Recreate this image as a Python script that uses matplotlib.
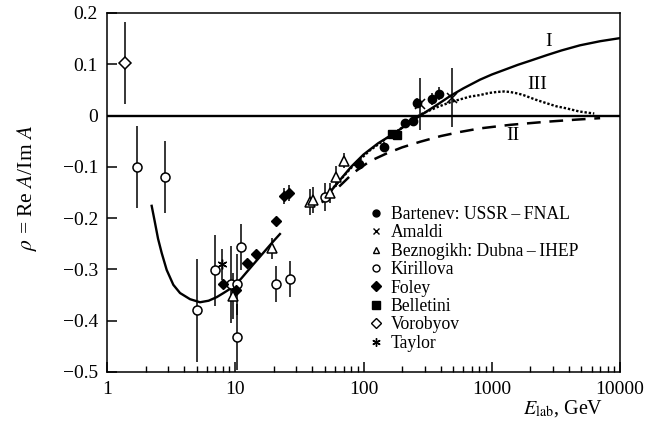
import matplotlib
matplotlib.use("Agg")
import matplotlib.pyplot as plt
from matplotlib.lines import Line2D
from matplotlib.ticker import FixedLocator, LogLocator, NullFormatter, FixedFormatter

plt.rcParams['font.family'] = ['Liberation Serif', 'DejaVu Serif']
plt.rcParams['mathtext.fontset'] = 'stix'

# ---- data ----
vorobyov_E = [1.38]
vorobyov_rho = [0.103]
vorobyov_err = [0.08]

kirillova_E = [1.70, 2.83, 5.06, 6.95, 9.2, 10.4, 10.4, 11.1, 20.7, 26.7, 50.1]
kirillova_rho = [-0.100, -0.120, -0.380, -0.302, -0.329, -0.329, -0.432, -0.257, -0.329, -0.319, -0.159]
kirillova_err = [0.08, 0.07, 0.10, 0.07, 0.075, 0.06, 0.065, 0.045, 0.035, 0.035, 0.028]

taylor_E = [7.93]
taylor_rho = [-0.290]
taylor_err = [0.03]

foley_E = [8.08, 10.1, 12.3, 14.4, 20.7, 24.1, 26.3]
foley_rho = [-0.329, -0.341, -0.288, -0.270, -0.205, -0.157, -0.151]
foley_err = [0.008, 0.01, 0.008, 0.008, 0.008, 0.015, 0.015]

beznogikh_E = [9.55, 19.2, 38.3, 40.6, 54.8, 60.7, 70.9]
beznogikh_rho = [-0.351, -0.259, -0.168, -0.165, -0.151, -0.119, -0.088]
beznogikh_err = [0.045, 0.02, 0.025, 0.025, 0.02, 0.02, 0.015]

bartenev_E = [92.7, 144.5, 211, 242, 260, 340, 388]
bartenev_rho = [-0.094, -0.062, -0.015, -0.011, 0.025, 0.032, 0.043]
bartenev_err = [0.01, 0.01, 0.008, 0.008, 0.01, 0.012, 0.012]

belletini_E = [166, 182]
belletini_rho = [-0.036, -0.038]
belletini_err = [0.008, 0.008]

amaldi_E = [277, 488]
amaldi_rho = [0.0225, 0.035]
amaldi_err = [0.05, 0.057]

# low-energy curve
low_E = [2.23, 2.35, 2.5, 2.67, 2.92, 3.29, 3.71, 4.44, 5.31, 6.2, 7.17, 8.1, 9.1,
         10.2, 11.2, 12.3, 14.3, 16.5, 19.2, 22.3]
low_rho = [-0.176, -0.205, -0.240, -0.268, -0.301, -0.330, -0.346, -0.358, -0.364, -0.361,
           -0.354, -0.346, -0.338, -0.328, -0.317, -0.305, -0.286, -0.268, -0.249, -0.231]

# curve I (solid)
I_E = [48, 60, 80, 100, 130, 170, 220, 277, 380, 480, 600, 810, 1000, 1250, 1600, 2000,
       2700, 3500, 4875, 7000, 10000]
I_rho = [-0.168, -0.137, -0.100, -0.076, -0.054, -0.036, -0.017, 0.0, 0.022, 0.039, 0.053,
         0.070, 0.080, 0.089, 0.099, 0.107, 0.118, 0.127, 0.137, 0.145, 0.151]

# curve II (dashed)
II_E = [48, 55, 70, 83, 112, 151, 200, 277, 400, 565, 810, 1400, 2680, 4500, 7000]
II_rho = [-0.168, -0.155, -0.130, -0.112, -0.089, -0.074, -0.062, -0.051, -0.040, -0.032,
          -0.025, -0.018, -0.012, -0.008, -0.005]

# curve III (dotted)
III_E = [48, 60, 80, 112, 160, 210, 277, 380, 488, 677, 810, 950, 1093, 1250, 1387, 1600,
         1763, 2200, 2680, 3200, 3840, 4800, 5840, 6300]
III_rho = [-0.166, -0.137, -0.102, -0.068, -0.040, -0.020, 0.002, 0.017, 0.027, 0.037, 0.040,
           0.044, 0.046, 0.047, 0.046, 0.043, 0.040, 0.031, 0.024, 0.018, 0.014, 0.008, 0.005, 0.004]

ytick_vals = [0.2, 0.1, 0, -0.1, -0.2, -0.3, -0.4, -0.5]
ytick_labels = ['0.2', '0.1', '0', '\u22120.1', '\u22120.2', '\u22120.3', '\u22120.4', '\u22120.5']
xtick_vals = [1, 10, 100, 1000, 10000]
xtick_labels = ['1', '10', '100', '1000', '10000']

FS = 14
LFS = 12.7

fig = plt.figure(figsize=(6.54, 4.34), dpi=100)
ax = fig.add_axes([107/654, 1 - 372/434, 513/654, 359/434])
ax.set_xscale('log')
ax.set_xlim(1, 10000)
ax.set_ylim(-0.5, 0.2)

ax.axhline(0, color='black', lw=1.7, zorder=1)

# curves
ax.plot(low_E, low_rho, color='black', lw=1.7, zorder=2)
ax.plot(I_E, I_rho, color='black', lw=1.7, zorder=2)
ax.plot(II_E, II_rho, color='black', lw=1.8, dashes=(5.5, 3.5), zorder=2)
ax.plot(III_E, III_rho, color='black', lw=1.7, dashes=(1, 0.8), zorder=2)

eb = dict(ecolor='black', elinewidth=1.1, capsize=0, ls='none', zorder=3)
ax.errorbar(vorobyov_E, vorobyov_rho, yerr=vorobyov_err, marker='D', ms=6, mfc='white', mec='black', mew=1.1, **eb)
ax.errorbar(kirillova_E, kirillova_rho, yerr=kirillova_err, marker='o', ms=6.5, mfc='white', mec='black', mew=1.1, **eb)
ax.errorbar(taylor_E, taylor_rho, yerr=taylor_err, marker=(6, 2, 0), ms=7, mfc='black', mec='black', mew=1.0, **eb)
ax.errorbar(foley_E, foley_rho, yerr=foley_err, marker='D', ms=5.5, mfc='black', mec='black', mew=1.0, **eb)
ax.errorbar(beznogikh_E, beznogikh_rho, yerr=beznogikh_err, marker='^', ms=6.5, mfc='white', mec='black', mew=1.1, **eb)
ax.errorbar(bartenev_E, bartenev_rho, yerr=bartenev_err, marker='o', ms=6, mfc='black', mec='black', mew=1.0, **eb)
ax.errorbar(belletini_E, belletini_rho, yerr=belletini_err, marker='s', ms=6, mfc='black', mec='black', mew=1.0, **eb)
ax.errorbar(amaldi_E, amaldi_rho, yerr=amaldi_err, marker='x', ms=6.5, mfc='black', mec='black', mew=1.1, **eb)

# curve labels
ax.text(2750, 0.144, 'I', fontsize=FS, ha='center', va='center')
ax.text(2254, 0.060, 'III', fontsize=FS, ha='center', va='center')
ax.text(1465, -0.038, 'II', fontsize=FS, ha='center', va='center')

# legend
handles = [
    Line2D([], [], ls='none', marker='o', ms=5, mfc='black', mec='black'),
    Line2D([], [], ls='none', marker='x', ms=5, mec='black', mew=1.0),
    Line2D([], [], ls='none', marker='^', ms=5, mfc='white', mec='black', mew=1.0),
    Line2D([], [], ls='none', marker='o', ms=5, mfc='white', mec='black', mew=1.0),
    Line2D([], [], ls='none', marker='D', ms=5, mfc='black', mec='black'),
    Line2D([], [], ls='none', marker='s', ms=5.5, mfc='black', mec='black'),
    Line2D([], [], ls='none', marker='D', ms=5, mfc='white', mec='black', mew=1.0),
    Line2D([], [], ls='none', marker=(6, 2, 0), ms=6, mec='black', mew=1.0),
]
labels = ['Bartenev: USSR\u2009\u2013\u2009FNAL', 'Amaldi', 'Beznogikh: Dubna\u2009\u2013\u2009IHEP',
          'Kirillova', 'Foley', 'Belletini', 'Vorobyov', 'Taylor']
leg = ax.legend(handles, labels, loc='upper left', bbox_to_anchor=((367 - 107) / 513, (372 - 206) / 359),
                frameon=False, fontsize=LFS, handlelength=1.0, handletextpad=0.35,
                labelspacing=0.08, borderpad=0, borderaxespad=0)

# axes styling
for s in ax.spines.values():
    s.set_linewidth(1.1)
ax.yaxis.set_major_locator(FixedLocator(ytick_vals))
ax.yaxis.set_major_formatter(FixedFormatter(ytick_labels))
ax.xaxis.set_major_locator(FixedLocator(xtick_vals))
ax.xaxis.set_major_formatter(FixedFormatter(xtick_labels))
ax.xaxis.set_minor_locator(LogLocator(base=10, subs=range(2, 10)))
ax.xaxis.set_minor_formatter(NullFormatter())
ax.tick_params(axis='both', which='major', direction='in', length=7, width=1.1, labelsize=FS, pad=6.5)
ax.tick_params(axis='x', which='minor', direction='in', length=4.5, width=1.0)
ax.tick_params(top=False, right=False, which='both')

ax.set_ylabel(r'$\rho$ = Re $A$/Im $A$', fontsize=15.5)
ax.yaxis.set_label_coords((39 - 107) / 513, (372 - 188) / 359)
ax.set_xlabel(r'$E_{\mathrm{lab}}$, GeV', fontsize=14.5)
ax.xaxis.set_label_coords((563 - 107) / 513, -(398 - 372) / 359)

fig.savefig('out.png', dpi=100)
